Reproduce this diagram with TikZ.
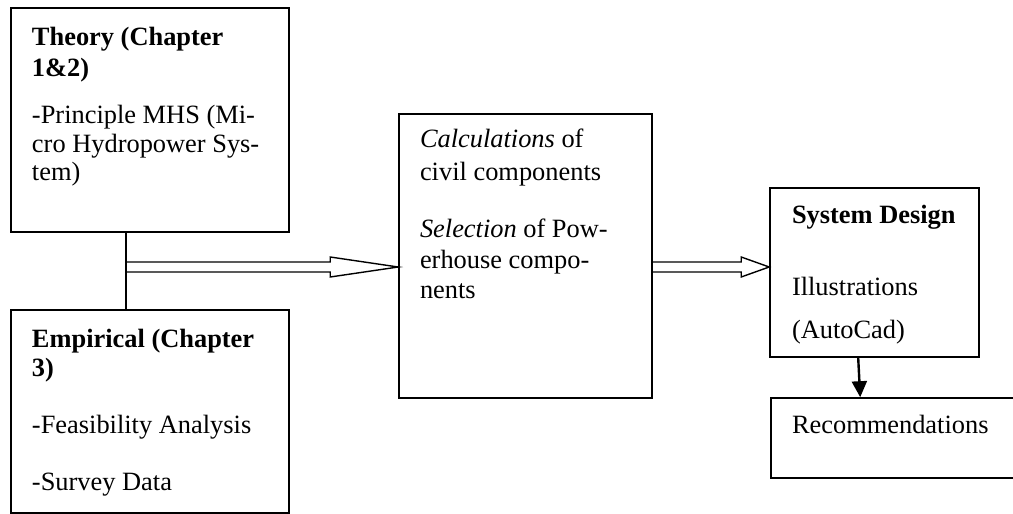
\documentclass[tikz,border=0pt]{standalone}
\usepackage{fontspec}
\setmainfont{Liberation Serif}
\usetikzlibrary{fit,arrows.meta,calc}
\tikzset{
  box/.style={draw=black, line width=0.8pt, inner sep=0pt, fill=none},
  txt/.style={anchor=base west, inner sep=0pt, outer sep=0pt, font=\fontsize{13.2pt}{14.5pt}\selectfont},
  hollow/.style={draw=black, line width=0.7pt, line join=miter},
  solidarrow/.style={draw=black, line width=1.2pt, -{Triangle[length=8pt,width=7.5pt]}}
}
\begin{document}
\begin{tikzpicture}[x=0.5pt,y=-0.5pt]
\useasboundingbox (0,0) rectangle (1013,514);
\clip (0,0) rectangle (1013,514);
% boxes
\node[box, fit={(11,8) (289,232)}] (theory) {};
\node[box, fit={(11,310) (289,513)}] (emp) {};
\node[box, fit={(399,114) (652,398)}] (calc) {};
\node[box, fit={(770,188) (979,357)}] (design) {};
\node[box, fit={(771,398) (1030,478)}] (rec) {};
% texts: Theory
\node[txt] (t1) at (32,46) {\textbf{Theory (Chapter}};
\node[txt] (t2) at (32,76) {\textbf{1\&2)}};
\node[txt] (t3) at (32,123) {-Principle MHS (Mi-};
\node[txt] (t4) at (32,152) {cro Hydropower Sys-};
\node[txt] (t5) at (32,180) {tem)};
% Empirical
\node[txt] (e1) at (32,347) {\textbf{Empirical (Chapter}};
\node[txt] (e2) at (32,376) {\textbf{3)}};
\node[txt] (e3) at (32,433) {-Feasibility Analysis};
\node[txt] (e4) at (32,490) {-Survey Data};
% Calculations
\node[txt] (c1) at (420,147) {\textit{Calculations} of};
\node[txt] (c2) at (420,180) {civil components};
\node[txt] (c3) at (420,237) {\textit{Selection} of Pow-};
\node[txt] (c4) at (420,268) {erhouse compo-};
\node[txt] (c5) at (420,298) {nents};
% System design
\node[txt] (s1) at (792,223) {\textbf{System Design}};
\node[txt] (s2) at (792,295) {Illustrations};
\node[txt] (s3) at (792,338) {(AutoCad)};
% Recommendations
\node[txt] (r1) at (792,433) {Recommendations};
% connectors
\coordinate (j) at (126,267);
\draw[line width=0.8pt] (theory.south -| j) -- (emp.north -| j);
\draw[hollow] ($(j)+(0,-5)$) -- ($(calc.west |- j)+(-68,-5)$) -- ($(calc.west |- j)+(-68,-10)$) -- (calc.west |- j)
  -- ($(calc.west |- j)+(-68,10)$) -- ($(calc.west |- j)+(-68,5)$) -- ($(j)+(0,5)$);
\draw[hollow] ($(calc.east |- j)+(0,-5)$) -- ($(design.west |- j)+(-28,-5)$) -- ($(design.west |- j)+(-28,-10)$)
  -- (design.west |- j) -- ($(design.west |- j)+(-28,10)$) -- ($(design.west |- j)+(-28,5)$) -- ($(calc.east |- j)+(0,5)$);
\draw[solidarrow] ($(design.south west)+(89,0)$) -- ($(rec.north west)+(90,0)$);
\end{tikzpicture}
\end{document}
